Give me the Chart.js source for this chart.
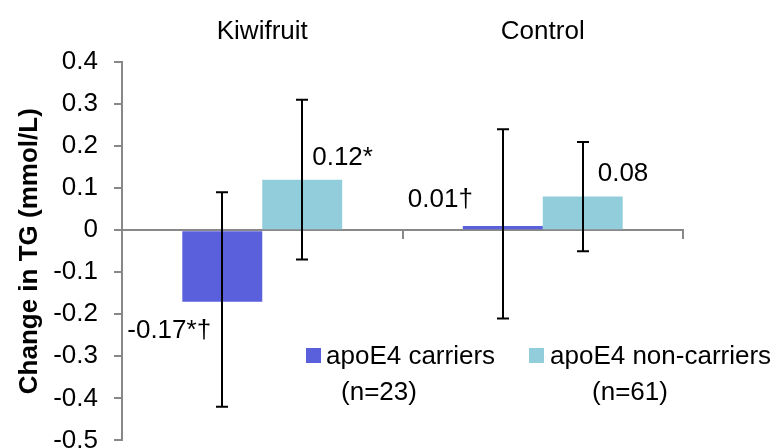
<!DOCTYPE html>
<html>
<head>
<meta charset="utf-8">
<script src="https://cdn.jsdelivr.net/npm/chart.js@4.4.1/dist/chart.umd.min.js"></script>
<style>
  html, body { margin: 0; padding: 0; background: #fff; overflow: hidden; }
  #wrap { width: 777px; height: 472px; }
</style>
</head>
<body>
<div id="wrap"><canvas id="chart" width="777" height="472"></canvas></div>
<script>
const categories = ["Kiwifruit", "Control"];
const seriesNames = ["apoE4 carriers", "apoE4 non-carriers"];
const sampleSizes = ["(n=23)", "(n=61)"];
const carrierValues = [-0.17, 0.01];
const nonCarrierValues = [0.12, 0.08];
const carrierErrLow = [-0.42, -0.21];
const carrierErrHigh = [0.09, 0.24];
const nonCarrierErrLow = [-0.07, -0.05];
const nonCarrierErrHigh = [0.31, 0.21];
const carrierLabels = ["-0.17*\u2020", "0.01\u2020"];
const nonCarrierLabels = ["0.12*", "0.08"];
const yTicks = [0.4, 0.3, 0.2, 0.1, 0, -0.1, -0.2, -0.3, -0.4, -0.5];

const FONT = "'Liberation Sans', Arial, sans-serif";
const AXIS_GREY = "#888888";

// label offsets from bar centre / bar end (picked to sit where the original has them)
const labelOffsets = [
  [{ dx: -95, dy: 29 }, { dx: -95, dy: -26 }],
  [{ dx: 10, dy: -22 }, { dx: 15, dy: -23 }]
];

const errorBars = [
  { low: carrierErrLow, high: carrierErrHigh },
  { low: nonCarrierErrLow, high: nonCarrierErrHigh }
];
const valueLabels = [carrierLabels, nonCarrierLabels];

const extras = {
  id: "extras",
  afterDatasetsDraw(chart) {
    const { ctx, scales: { x, y } } = chart;
    ctx.save();

    // error bars
    ctx.strokeStyle = "#000";
    ctx.lineWidth = 2;
    chart.data.datasets.forEach((ds, di) => {
      const meta = chart.getDatasetMeta(di);
      meta.data.forEach((bar, i) => {
        const top = y.getPixelForValue(errorBars[di].high[i]);
        const bottom = y.getPixelForValue(errorBars[di].low[i]);
        const cx = Math.round(bar.x);
        ctx.beginPath();
        ctx.moveTo(cx, top);
        ctx.lineTo(cx, bottom);
        ctx.moveTo(cx - 6, top);
        ctx.lineTo(cx + 6, top);
        ctx.moveTo(cx - 6, bottom);
        ctx.lineTo(cx + 6, bottom);
        ctx.stroke();
      });
    });

    // value labels
    ctx.fillStyle = "#000";
    ctx.font = "26px " + FONT;
    ctx.textAlign = "left";
    ctx.textBaseline = "middle";
    chart.data.datasets.forEach((ds, di) => {
      const meta = chart.getDatasetMeta(di);
      meta.data.forEach((bar, i) => {
        const off = labelOffsets[di][i];
        ctx.fillText(valueLabels[di][i], bar.x + off.dx, bar.y + off.dy);
      });
    });

    // category names above the plot
    ctx.textAlign = "center";
    categories.forEach((c, i) => {
      ctx.fillText(c, x.getPixelForValue(i), 32);
    });

    // legend
    const legendItems = [
      { box: 306, text: 326, nx: 379 },
      { box: 529, text: 550, nx: 630 }
    ];
    chart.data.datasets.forEach((ds, di) => {
      const it = legendItems[di];
      ctx.fillStyle = ds.backgroundColor;
      ctx.fillRect(it.box, 348, 15, 15);
      ctx.fillStyle = "#000";
      ctx.textAlign = "left";
      ctx.fillText(ds.label, it.text, 357);
      ctx.textAlign = "center";
      ctx.fillText(sampleSizes[di], it.nx, 393);
    });

    ctx.restore();
  }
};

new Chart(document.getElementById("chart"), {
  type: "bar",
  data: {
    labels: categories,
    datasets: [
      {
        label: seriesNames[0],
        data: carrierValues,
        backgroundColor: "#5A5FDC",
        categoryPercentage: 0.57,
        barPercentage: 1
      },
      {
        label: seriesNames[1],
        data: nonCarrierValues,
        backgroundColor: "#92CDDC",
        categoryPercentage: 0.57,
        barPercentage: 1
      }
    ]
  },
  options: {
    responsive: false,
    animation: false,
    layout: { padding: { top: 62, right: 94, bottom: 8, left: 0 } },
    plugins: {
      legend: { display: false },
      tooltip: { enabled: false }
    },
    scales: {
      x: {
        position: { y: 0 },
        ticks: { display: false },
        grid: {
          offset: true,
          drawOnChartArea: false,
          drawTicks: true,
          tickLength: 8,
          color: AXIS_GREY,
          lineWidth: 2
        },
        border: { color: AXIS_GREY, width: 2 }
      },
      y: {
        min: -0.5,
        max: 0.4,
        afterBuildTicks(scale) {
          scale.ticks = yTicks.map(v => ({ value: v }));
        },
        afterFit(scale) {
          scale.width = 122;
        },
        ticks: {
          color: "#000",
          padding: 16,
          font: { family: FONT, size: 26 },
          callback: v => String(Math.round(v * 10) / 10)
        },
        grid: {
          drawOnChartArea: false,
          drawTicks: true,
          tickLength: 8,
          color: AXIS_GREY,
          lineWidth: 2
        },
        border: { color: AXIS_GREY, width: 2 },
        title: {
          display: true,
          text: "Change in TG (mmol/L)",
          color: "#000",
          font: { family: FONT, size: 26, weight: "bold" },
          padding: { top: 14, bottom: 0 }
        }
      }
    }
  },
  plugins: [extras]
});
</script>
</body>
</html>
